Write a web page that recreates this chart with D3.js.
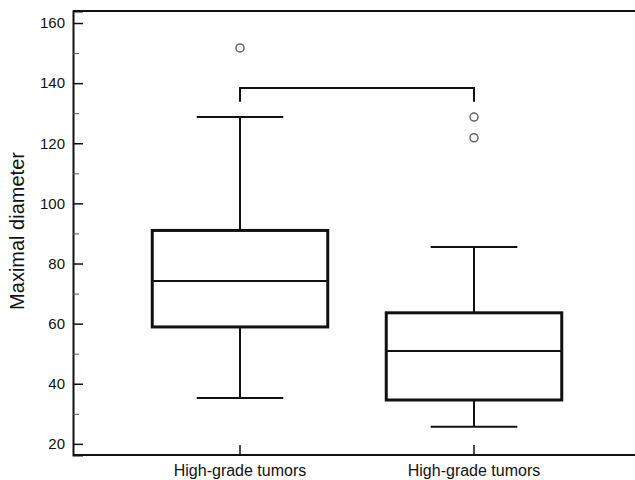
<!DOCTYPE html>
<html>
<head>
<meta charset="utf-8">
<script src="https://cdn.jsdelivr.net/npm/d3@7"></script>
<style>
  body { margin: 0; background: #fff; }
  svg { display: block; font-family: "Liberation Sans", Arial, sans-serif; }
</style>
</head>
<body>
<script>
// Data
const categories = ['High-grade tumors', 'High-grade tumors'];
const q1 = [58.9, 34.6];
const medians = [74.2, 50.9];
const q3 = [91.0, 63.6];
const whiskerLow = [35.3, 25.7];
const whiskerHigh = [128.7, 85.5];
const outliers = [[151.7], [128.7, 121.8]];
const bracketValue = 138.4;
const bracketLegValue = 133.8;
const majorTicks = [20, 40, 60, 80, 100, 120, 140, 160];
const minorTicks = [30, 50, 70, 90, 110, 130, 150];

const width = 635, height = 480;
const margin = { left: 73, top: 11, bottom: 455 };

const svg = d3.select('body').append('svg')
  .attr('width', width)
  .attr('height', height);

const y = d3.scaleLinear()
  .domain([16.3, 164])
  .range([margin.bottom, margin.top]);

const x = d3.scaleBand()
  .domain(d3.range(categories.length))
  .range([123, 591])
  .padding(0);

const boxW = x.bandwidth() * 0.75;
const capW = x.bandwidth() * 0.37;
const cx = i => x(i) + x.bandwidth() / 2;

// Frame: top and bottom lines run to the right edge
svg.append('line')
  .attr('x1', margin.left).attr('x2', width)
  .attr('y1', margin.top).attr('y2', margin.top)
  .attr('stroke', '#111').attr('stroke-width', 2);

// Left axis
const yAxis = svg.append('g')
  .attr('transform', `translate(${margin.left},0)`)
  .call(d3.axisLeft(y).tickValues(majorTicks).tickSize(-10).tickPadding(8));
yAxis.select('.domain').attr('stroke', '#111').attr('stroke-width', 2);
yAxis.selectAll('.tick line').attr('stroke', '#111').attr('stroke-width', 1.5);
yAxis.selectAll('.tick text').attr('font-size', 15).attr('fill', '#111');

const yMinor = svg.append('g')
  .attr('transform', `translate(${margin.left},0)`)
  .call(d3.axisLeft(y).tickValues(minorTicks).tickSize(-6).tickFormat(''));
yMinor.select('.domain').remove();
yMinor.selectAll('.tick line').attr('stroke', '#555').attr('stroke-width', 1);

// Bottom axis
const xAxis = svg.append('g')
  .attr('transform', `translate(0,${margin.bottom})`)
  .call(d3.axisBottom(x).tickSize(-10).tickPadding(10).tickFormat(i => categories[i]));
xAxis.select('.domain').remove();
xAxis.append('line')
  .attr('x1', margin.left).attr('x2', width)
  .attr('stroke', '#111').attr('stroke-width', 2);
xAxis.selectAll('.tick line').attr('stroke', '#111').attr('stroke-width', 1.5);
xAxis.selectAll('.tick text').attr('font-size', 16).attr('fill', '#111');

// Y axis title
svg.append('text')
  .attr('transform', `translate(24,231) rotate(-90)`)
  .attr('text-anchor', 'middle')
  .attr('font-size', 20)
  .attr('fill', '#111')
  .text('Maximal diameter');

// Boxes
const g = svg.append('g').attr('stroke', '#111').attr('fill', 'none');
categories.forEach((c, i) => {
  const b = g.append('g');
  // whiskers
  b.append('line').attr('x1', cx(i)).attr('x2', cx(i))
    .attr('y1', y(q3[i])).attr('y2', y(whiskerHigh[i])).attr('stroke-width', 2);
  b.append('line').attr('x1', cx(i)).attr('x2', cx(i))
    .attr('y1', y(q1[i])).attr('y2', y(whiskerLow[i])).attr('stroke-width', 2);
  [whiskerHigh[i], whiskerLow[i]].forEach(v => {
    b.append('line').attr('x1', cx(i) - capW / 2).attr('x2', cx(i) + capW / 2)
      .attr('y1', y(v)).attr('y2', y(v)).attr('stroke-width', 2);
  });
  b.append('rect')
    .attr('x', cx(i) - boxW / 2).attr('width', boxW)
    .attr('y', y(q3[i])).attr('height', y(q1[i]) - y(q3[i]))
    .attr('stroke-width', 3);
  b.append('line').attr('x1', cx(i) - boxW / 2).attr('x2', cx(i) + boxW / 2)
    .attr('y1', y(medians[i])).attr('y2', y(medians[i])).attr('stroke-width', 2);
  outliers[i].forEach(v => {
    b.append('circle').attr('cx', cx(i)).attr('cy', y(v)).attr('r', 4)
      .attr('stroke', '#666').attr('stroke-width', 1.5).attr('fill', '#fff');
  });
});

// Significance bracket
svg.append('path')
  .attr('d', d3.line()([
    [cx(0), y(bracketLegValue)], [cx(0), y(bracketValue)],
    [cx(1), y(bracketValue)], [cx(1), y(bracketLegValue)]
  ]))
  .attr('fill', 'none').attr('stroke', '#111').attr('stroke-width', 2);
</script>
</body>
</html>
